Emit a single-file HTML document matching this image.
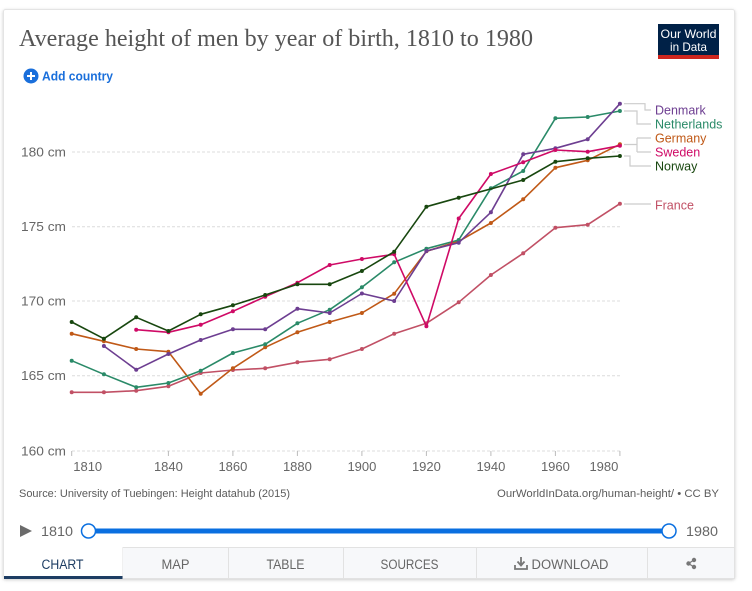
<!DOCTYPE html>
<html><head><meta charset="utf-8"><style>
html,body{margin:0;padding:0;background:#fff;}
svg{display:block;font-family:"Liberation Sans",sans-serif;}
</style></head><body>
<svg width="752" height="591" viewBox="0 0 752 591" xmlns="http://www.w3.org/2000/svg">
<defs>
<filter id="sh" x="-5%" y="-5%" width="110%" height="110%"><feDropShadow dx="0" dy="1" stdDeviation="1.5" flood-color="#000" flood-opacity="0.2"/></filter>
<marker id="mNo" viewBox="-3 -3 6 6" markerWidth="6" markerHeight="6" markerUnits="userSpaceOnUse"><circle r="2" fill="#18470F"/></marker>
<marker id="mSw" viewBox="-3 -3 6 6" markerWidth="6" markerHeight="6" markerUnits="userSpaceOnUse"><circle r="2" fill="#CF0A66"/></marker>
<marker id="mDk" viewBox="-3 -3 6 6" markerWidth="6" markerHeight="6" markerUnits="userSpaceOnUse"><circle r="2" fill="#6D3E91"/></marker>
<marker id="mDe" viewBox="-3 -3 6 6" markerWidth="6" markerHeight="6" markerUnits="userSpaceOnUse"><circle r="2" fill="#C05917"/></marker>
<marker id="mNl" viewBox="-3 -3 6 6" markerWidth="6" markerHeight="6" markerUnits="userSpaceOnUse"><circle r="2" fill="#2A8A68"/></marker>
<marker id="mFr" viewBox="-3 -3 6 6" markerWidth="6" markerHeight="6" markerUnits="userSpaceOnUse"><circle r="2" fill="#C15065"/></marker>
</defs>

<!-- card -->
<rect x="3.5" y="9.5" width="731" height="569" rx="2" fill="#fff" stroke="#e4e4e4" filter="url(#sh)"/>

<!-- title -->
<text x="19" y="46" font-family="Liberation Serif, serif" font-size="24" fill="#555" textLength="514" lengthAdjust="spacingAndGlyphs">Average height of men by year of birth, 1810 to 1980</text>

<!-- logo -->
<rect x="658" y="24" width="61" height="32" fill="#002147"/>
<rect x="658" y="55" width="61" height="4" fill="#ce261e"/>
<text x="688.5" y="38" font-size="12" fill="#fff" text-anchor="middle" textLength="56" lengthAdjust="spacingAndGlyphs">Our World</text>
<text x="688.5" y="51" font-size="12" fill="#fff" text-anchor="middle" textLength="37" lengthAdjust="spacingAndGlyphs">in Data</text>

<!-- add country -->
<circle cx="31" cy="76" r="7.5" fill="#1a6fdb"/>
<path d="M27 76H35M31 72V80" stroke="#fff" stroke-width="2"/>
<text x="42" y="80.5" font-size="13" font-weight="bold" fill="#1a6fdb" textLength="71" lengthAdjust="spacingAndGlyphs">Add country</text>

<!-- grid -->
<g stroke="#dcdcdc" stroke-width="1" stroke-dasharray="3,2">
<line x1="72" y1="152" x2="620" y2="152"/>
<line x1="72" y1="226.7" x2="620" y2="226.7"/>
<line x1="72" y1="301" x2="620" y2="301"/>
<line x1="72" y1="375.7" x2="620" y2="375.7"/>
<line x1="72" y1="451" x2="620" y2="451"/>
</g>
<g stroke="#bbb" stroke-width="1">
<line x1="71.7" y1="451" x2="71.7" y2="456"/>
<line x1="168.4" y1="451" x2="168.4" y2="456"/>
<line x1="232.9" y1="451" x2="232.9" y2="456"/>
<line x1="297.4" y1="451" x2="297.4" y2="456"/>
<line x1="361.9" y1="451" x2="361.9" y2="456"/>
<line x1="426.4" y1="451" x2="426.4" y2="456"/>
<line x1="490.9" y1="451" x2="490.9" y2="456"/>
<line x1="555.4" y1="451" x2="555.4" y2="456"/>
<line x1="619.9" y1="451" x2="619.9" y2="456"/>
</g>
<g font-size="13" fill="#666" text-anchor="end">
<text x="66" y="156.5" textLength="45" lengthAdjust="spacingAndGlyphs">180 cm</text>
<text x="66" y="231.2" textLength="45" lengthAdjust="spacingAndGlyphs">175 cm</text>
<text x="66" y="305.5" textLength="45" lengthAdjust="spacingAndGlyphs">170 cm</text>
<text x="66" y="380.2" textLength="45" lengthAdjust="spacingAndGlyphs">165 cm</text>
<text x="66" y="455.5" textLength="45" lengthAdjust="spacingAndGlyphs">160 cm</text>
</g>
<g font-size="13" fill="#666" text-anchor="middle">
<text x="87.7" y="471">1810</text>
<text x="168.4" y="471">1840</text>
<text x="232.9" y="471">1860</text>
<text x="297.4" y="471">1880</text>
<text x="361.9" y="471">1900</text>
<text x="426.4" y="471">1920</text>
<text x="490.9" y="471">1940</text>
<text x="555.4" y="471">1960</text>
<text x="603.9" y="471">1980</text>
</g>

<!-- series -->
<g fill="none" stroke-width="1.6" stroke-linejoin="round">
<polyline stroke="#C15065" marker-start="url(#mFr)" marker-mid="url(#mFr)" marker-end="url(#mFr)" points="71.7,392.3 103.9,392.3 136.2,390.7 168.4,386.3 200.7,373 232.9,370 265.2,368.3 297.4,362.3 329.7,359.3 361.9,349 394.2,333.7 426.4,323.3 458.7,302.3 490.9,275 523.2,253.3 555.4,227.7 587.7,224.7 619.9,203.7"/>
<polyline stroke="#C05917" marker-start="url(#mDe)" marker-mid="url(#mDe)" marker-end="url(#mDe)" points="71.7,333.7 103.9,341.3 136.2,349 168.4,351.7 200.7,393.7 232.9,368.3 265.2,347.3 297.4,332.3 329.7,322 361.9,313 394.2,293.7 426.4,251.3 458.7,241.3 490.9,223 523.2,199.3 555.4,167.7 587.7,160.3 619.9,144.3"/>
<polyline stroke="#2A8A68" marker-start="url(#mNl)" marker-mid="url(#mNl)" marker-end="url(#mNl)" points="71.7,360.7 103.9,374.3 136.2,387.3 168.4,383 200.7,370.7 232.9,353 265.2,344.3 297.4,323.3 329.7,309.7 361.9,287.3 394.2,262.3 426.4,248.7 458.7,240 490.9,188.3 523.2,171 555.4,118.3 587.7,117 619.9,111"/>
<polyline stroke="#6D3E91" marker-start="url(#mDk)" marker-mid="url(#mDk)" marker-end="url(#mDk)" points="103.9,346 136.2,369.7 168.4,354 200.7,340 232.9,329.3 265.2,329.3 297.4,308.7 329.7,313 361.9,293.5 394.2,301 426.4,251 458.7,242.7 490.9,212.3 523.2,154.3 555.4,148.3 587.7,139.3 619.9,103.7"/>
<polyline stroke="#CF0A66" marker-start="url(#mSw)" marker-mid="url(#mSw)" marker-end="url(#mSw)" points="136.2,329.7 168.4,332.3 200.7,324.7 232.9,311.3 265.2,296.7 297.4,282.7 329.7,265 361.9,259 394.2,254.3 426.4,326.3 458.7,218.5 490.9,174 523.2,162.3 555.4,150 587.7,151.7 619.9,145.7"/>
<polyline stroke="#18470F" marker-start="url(#mNo)" marker-mid="url(#mNo)" marker-end="url(#mNo)" points="71.7,322 103.9,338.7 136.2,317.3 168.4,331 200.7,314.3 232.9,305.3 265.2,295 297.4,284.3 329.7,284.3 361.9,271 394.2,251.7 426.4,206.7 458.7,197.7 523.2,180 555.4,161.7 587.7,158.3 619.9,156"/>
</g>

<!-- legend connectors -->
<g fill="none" stroke="#ccc" stroke-width="1.2">
<path d="M624 103.7H645V110H651"/>
<path d="M624 111H637V124H651"/>
<path d="M624 144.5H637M637 138V152M637 138H651M637 152H651"/>
<path d="M624 156H630V166H651"/>
<path d="M624 204H651"/>
</g>
<g font-size="12.5">
<text x="655" y="114.3" fill="#6D3E91">Denmark</text>
<text x="655" y="128.3" fill="#2A8A68">Netherlands</text>
<text x="655" y="142.5" fill="#C05917">Germany</text>
<text x="655" y="156.3" fill="#CF0A66">Sweden</text>
<text x="655" y="170.5" fill="#18470F">Norway</text>
<text x="655" y="209.3" fill="#C15065">France</text>
</g>

<!-- footer -->
<text x="19" y="497" font-size="11" fill="#5b5b5b" textLength="271" lengthAdjust="spacingAndGlyphs">Source: University of Tuebingen: Height datahub (2015)</text>
<text x="497" y="497" font-size="11" fill="#5b5b5b" textLength="222" lengthAdjust="spacingAndGlyphs">OurWorldInData.org/human-height/ • CC BY</text>

<!-- timeline -->
<path d="M20 525L32 531L20 537Z" fill="#6b6b6b"/>
<text x="41" y="536" font-size="14" fill="#666" textLength="32" lengthAdjust="spacingAndGlyphs">1810</text>
<rect x="88" y="528.5" width="581" height="5" fill="#0a6fe0"/>
<circle cx="88.5" cy="531" r="7" fill="#fff" stroke="#0a6fe0" stroke-width="1.5"/>
<circle cx="669" cy="531" r="7" fill="#fff" stroke="#0a6fe0" stroke-width="1.5"/>
<text x="686" y="536" font-size="14" fill="#666" textLength="32" lengthAdjust="spacingAndGlyphs">1980</text>

<!-- tabs -->
<rect x="122.5" y="547.5" width="612" height="31" fill="#f7f8fa" stroke="#e2e2e2"/>
<rect x="4" y="548" width="118.5" height="30.5" fill="#fff"/>
<line x1="4" y1="547.5" x2="122.5" y2="547.5" stroke="#fff"/>
<g stroke="#e2e2e2"><line x1="228.5" y1="548" x2="228.5" y2="578"/><line x1="343.5" y1="548" x2="343.5" y2="578"/><line x1="476.5" y1="548" x2="476.5" y2="578"/><line x1="647.5" y1="548" x2="647.5" y2="578"/></g>
<rect x="4" y="576" width="118.5" height="3" fill="#1d3d63"/>
<g font-size="13.5" text-anchor="middle" fill="#666">
<text x="62.5" y="569" fill="#1d3d63" textLength="42" lengthAdjust="spacingAndGlyphs">CHART</text>
<text x="175.5" y="569" textLength="28" lengthAdjust="spacingAndGlyphs">MAP</text>
<text x="285.5" y="569" textLength="38" lengthAdjust="spacingAndGlyphs">TABLE</text>
<text x="409.5" y="569" textLength="58" lengthAdjust="spacingAndGlyphs">SOURCES</text>
<text x="570" y="569" textLength="77" lengthAdjust="spacingAndGlyphs">DOWNLOAD</text>
</g>
<!-- download icon -->
<path d="M521 557V565M517.5 561.5L521 565.5L524.5 561.5" stroke="#777" stroke-width="1.8" fill="none"/>
<path d="M515 565V569H527V565" stroke="#777" stroke-width="1.8" fill="none"/>
<!-- share icon -->
<g fill="#777"><circle cx="694" cy="560" r="2.2"/><circle cx="688.5" cy="563.5" r="2.2"/><circle cx="694" cy="567" r="2.2"/></g>
<path d="M694 560L688.5 563.5L694 567" stroke="#777" stroke-width="1.2" fill="none"/>
</svg>
</body></html>
